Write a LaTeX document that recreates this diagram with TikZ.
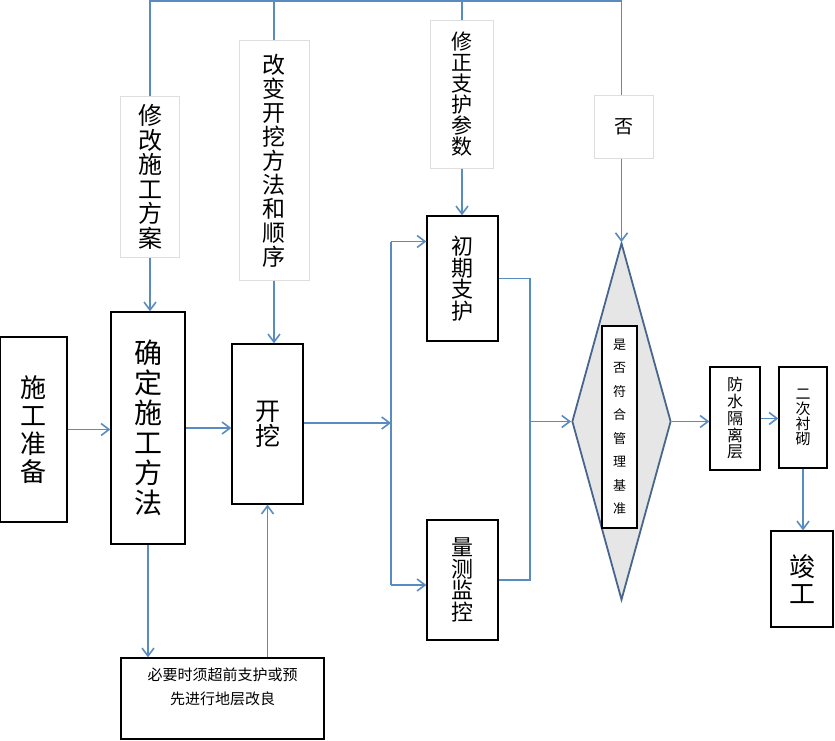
\documentclass[tikz,border=0pt]{standalone}
\usepackage{fontspec}
\setmainfont{Noto Sans CJK SC}
\usepackage{tikz}
\usetikzlibrary{arrows.meta,shapes.geometric,positioning}
\definecolor{flow}{RGB}{88,140,192}
\definecolor{rim}{RGB}{72,102,140}
\definecolor{pale}{RGB}{222,222,222}
\definecolor{shade}{RGB}{230,230,230}
\newcommand{\zh}[2]{\fontsize{#1pt}{#2pt}\selectfont}

\begin{document}
\begin{tikzpicture}[
  x=1pt,y=-1pt,
  >={Straight Barb[length=8pt,width=12pt]},
  box/.style={draw,line width=1.2pt,fill=white,align=center,inner sep=0pt},
  lbl/.style={draw=pale,line width=1pt,fill=white,align=center,inner sep=0pt},
  line/.style={draw=flow,line width=1.6pt},
  arr/.style={line,->}
]
\useasboundingbox (0,0) rectangle (835,741);

% main row
\node[box,minimum width=67,minimum height=185,font=\zh{26}{28}] (zhunbei) at (33.5,429.5) {施\\工\\准\\备};
\node[box,minimum width=74,minimum height=232,font=\zh{28}{30}] (queding) at (148,428) {确\\定\\施\\工\\方\\法};
\node[box,minimum width=71,minimum height=160,font=\zh{25}{25}] (kaiwa) at (267.5,424) {开\\挖};
\node[box,minimum width=203,minimum height=81,font=\zh{15}{24}] (chaoqian) at (222.5,698.5)
  {必要时须超前支护或预\\先进行地层改良\\~};

% feedback labels
\node[lbl,minimum width=59,minimum height=160,font=\zh{24}{24.5}] (xiugai) at (150,177) {修\\改\\施\\工\\方\\案};
\node[lbl,minimum width=70,minimum height=239,font=\zh{23}{24}] (gaibian) at (274,160.5) {改\\变\\开\\挖\\方\\法\\和\\顺\\序};
\node[lbl,minimum width=63,minimum height=147,font=\zh{21}{21}] (xiuzheng) at (462,94.5) {修\\正\\支\\护\\参\\数};
\node[lbl,minimum width=59,minimum height=62,font=\zh{19}{19}] (fou) at (624,127) {否};

% support and monitoring
\node[box,minimum width=71,minimum height=125,font=\zh{22}{21.5}] (chuqi) at (462.5,278.5) {初\\期\\支\\护};
\node[box,minimum width=71,minimum height=120,font=\zh{22}{21.5}] (liangce) at (462.5,580) {量\\测\\监\\控};

% decision
\node[diamond,draw=rim,line width=1.8pt,fill=shade,minimum width=99,minimum height=357,inner sep=0pt] (pan) at (621.5,421.5) {};
\node[box,minimum width=35,minimum height=202,font=\zh{13}{23.5}] (panding) at (619.5,427) {是\\否\\符\\合\\管\\理\\基\\准};

% final steps
\node[box,minimum width=50,minimum height=103,font=\zh{16}{16.75}] (fangshui) at (735,418.5) {防\\水\\隔\\离\\层};
\node[box,minimum width=48,minimum height=101,font=\zh{15}{15}] (erci) at (803,417.5) {二\\次\\衬\\砌};
\node[box,minimum width=62,minimum height=96,font=\zh{26}{27}] (jungong) at (802,579) {竣\\工};

\coordinate (top) at (0,1);
\coordinate (fk) at (391,423);
\coordinate (mg) at (530,421.5);
\coordinate (inA) at ([yshift=37pt]chuqi.west);
\coordinate (inB) at ([yshift=-5pt]liangce.west);

% connectors
\draw[arr] (zhunbei.east) -- (queding.west |- zhunbei.east);
\draw[arr] (queding.east) -- (kaiwa.west |- queding.east);
\draw[arr] (kaiwa.east |- fk) -- (fk);
\draw[line] (fk |- inA) -- (fk |- inB);
\draw[arr] (fk |- inA) -- (inA);
\draw[arr] (fk |- inB) -- (inB);
\draw[line] (chuqi.east) -| (mg |- liangce.east) -- (liangce.east);
\draw[arr] (mg) -- (pan.west);
\draw[arr] (pan.east) -- (fangshui.west |- pan.east);
\draw[arr] (fangshui.east) -- (erci.west |- fangshui.east);
\draw[arr] (erci.south) -- (jungong.north -| erci.south);
\draw[arr] (queding.south) -- (queding.south |- chaoqian.north);
\draw[arr] (kaiwa.south |- chaoqian.north) -- (kaiwa.south);

% feedback loop
\draw[line] (xiugai.north) -- (xiugai.north |- top) -- (pan.north |- top) -- (pan.north |- fou.north);
\draw[line] (gaibian.north) -- (gaibian.north |- top);
\draw[line] (xiuzheng.north) -- (xiuzheng.north |- top);
\draw[arr] (xiugai.south) -- (xiugai.south |- queding.north);
\draw[arr] (gaibian.south) -- (gaibian.south |- kaiwa.north);
\draw[arr] (xiuzheng.south) -- (xiuzheng.south |- chuqi.north);
\draw[arr] (pan.north |- fou.south) -- (pan.north);
\end{tikzpicture}
\end{document}
